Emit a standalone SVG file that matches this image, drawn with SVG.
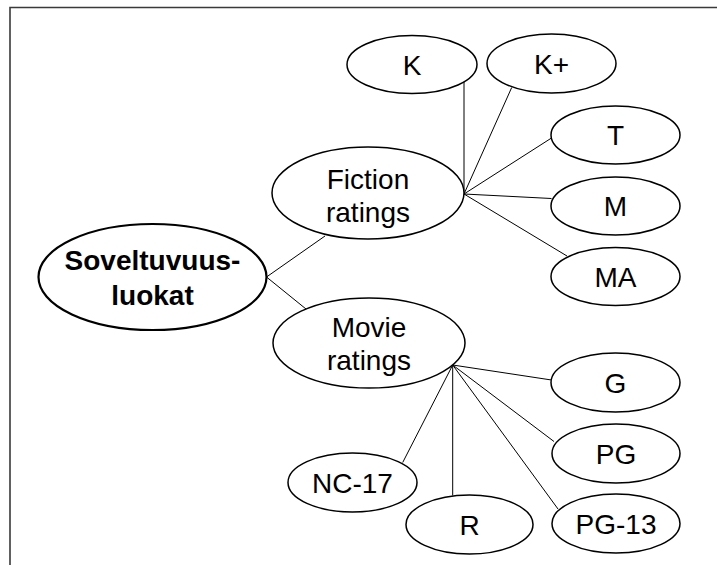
<svg xmlns="http://www.w3.org/2000/svg" width="717" height="565" viewBox="0 0 717 565">
  <style>
    .frame { stroke: #3a3a3a; stroke-width: 1.6; fill: none; }
    .link { stroke: #000; stroke-width: 1; fill: none; }
    .node ellipse { fill: #fff; stroke: #000; stroke-width: 1.5; }
    .root ellipse { stroke-width: 2.2; }
    text { font-family: "Liberation Sans", Arial, Helvetica, sans-serif; font-size: 28px; fill: #000; text-anchor: middle; }
    .root text { font-weight: bold; }
  </style>

  <!-- page frame: top and left edges -->
  <path class="frame" d="M10,565 V7.5 H717"/>

  <g id="connectors">
    <line class="link" x1="266.5" y1="277" x2="325" y2="236"/>
    <line class="link" x1="266.5" y1="277" x2="306" y2="309"/>
    <!-- fiction fan -->
    <line class="link" x1="464" y1="194" x2="464" y2="82"/>
    <line class="link" x1="464" y1="194" x2="511.7" y2="87.5"/>
    <line class="link" x1="464" y1="194" x2="551.5" y2="138"/>
    <line class="link" x1="464" y1="194" x2="551.5" y2="198.5"/>
    <line class="link" x1="464" y1="194" x2="567" y2="256"/>
    <!-- movie fan -->
    <line class="link" x1="452.7" y1="365" x2="551.5" y2="380"/>
    <line class="link" x1="452.7" y1="365" x2="554" y2="441.5"/>
    <line class="link" x1="452.7" y1="365" x2="558" y2="509"/>
    <line class="link" x1="452.7" y1="365" x2="452.7" y2="495.5"/>
    <line class="link" x1="452.7" y1="365" x2="402.7" y2="462.5"/>
  </g>

  <g id="soveltuvuusluokat" class="node root">
    <ellipse cx="152.5" cy="277" rx="114" ry="53"/>
    <text x="152.5" y="270">Soveltuvuus-</text>
    <text x="152.5" y="305">luokat</text>
  </g>

  <g id="fiction" class="node">
    <ellipse cx="368" cy="193" rx="96" ry="46"/>
    <text x="368" y="189">Fiction</text>
    <text x="368" y="222">ratings</text>
  </g>

  <g id="movie" class="node">
    <ellipse cx="369" cy="343" rx="96" ry="45"/>
    <text x="369" y="337">Movie</text>
    <text x="369" y="370">ratings</text>
  </g>

  <g id="k" class="node">
    <ellipse cx="412" cy="64.5" rx="65" ry="29"/>
    <text x="412" y="75">K</text>
  </g>
  <g id="kplus" class="node">
    <ellipse cx="551.5" cy="63.5" rx="64.5" ry="29.5"/>
    <text x="551.5" y="74">K+</text>
  </g>
  <g id="t" class="node">
    <ellipse cx="615.5" cy="135" rx="64.5" ry="29"/>
    <text x="615.5" y="145">T</text>
  </g>
  <g id="m" class="node">
    <ellipse cx="615.5" cy="206" rx="64.5" ry="29"/>
    <text x="615.5" y="216">M</text>
  </g>
  <g id="ma" class="node">
    <ellipse cx="615.5" cy="276.5" rx="64.5" ry="29"/>
    <text x="615.5" y="286.5">MA</text>
  </g>

  <g id="g" class="node">
    <ellipse cx="615.5" cy="382.5" rx="64.5" ry="29.5"/>
    <text x="615.5" y="392.5">G</text>
  </g>
  <g id="pg" class="node">
    <ellipse cx="616" cy="453.5" rx="64" ry="29.5"/>
    <text x="616" y="463.5">PG</text>
  </g>
  <g id="pg13" class="node">
    <ellipse cx="616" cy="523.5" rx="64" ry="29.5"/>
    <text x="616" y="533.5">PG-13</text>
  </g>
  <g id="r" class="node">
    <ellipse cx="469.5" cy="524.5" rx="63.5" ry="29.5"/>
    <text x="469.5" y="534.5">R</text>
  </g>
  <g id="nc17" class="node">
    <ellipse cx="352.5" cy="482.5" rx="64.5" ry="29.5"/>
    <text x="352.5" y="492.5">NC-17</text>
  </g>
</svg>
